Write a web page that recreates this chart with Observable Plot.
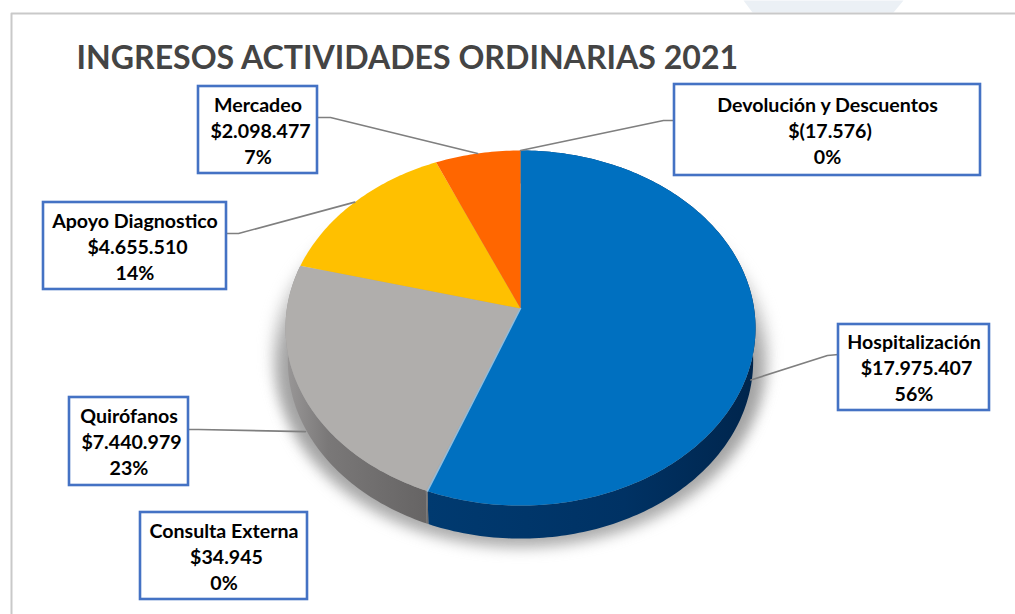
<!DOCTYPE html>
<html lang="es">
<head>
<meta charset="utf-8">
<script src="https://cdn.jsdelivr.net/npm/d3@7"></script>
<script src="https://cdn.jsdelivr.net/npm/@observablehq/plot@0.6"></script>
<style>
  html, body { margin: 0; padding: 0; background: #fff; overflow: hidden; }
  .pie-shadow { filter: blur(7px); }
  svg { display: block; }
</style>
</head>
<body>
<div id="chart"></div>
<script>
// ---- data ----
const chartTitle = "INGRESOS ACTIVIDADES ORDINARIAS 2021";
const categories = ["Hospitalización", "Consulta Externa", "Quirófanos", "Apoyo Diagnostico", "Mercadeo", "Devolución y Descuentos"];
const values = [17975407, 34945, 7440979, 4655510, 2098477, -17576];

// ---- styles and layout, kept apart from the data ----
const sliceColors = ["#0070c0", "#b0aeac", "#b0aeac", "#ffc000", "#ff6600", "#ff6600"];
const sideFills = ["url(#sideBlue)", "url(#sideGray)", "url(#sideGray)", "none", "none", "none"];
const boxes = [
  [838, 324, 989, 410],
  [140, 512, 307, 599],
  [69, 397, 188, 485],
  [43, 202, 226, 289],
  [198, 86, 317, 173],
  [674, 84, 980, 175]
];
// elbows of the leader lines, from box edge to elbow (null = no leader)
const elbows = [
  [[838, 354], [827, 355]],
  null,
  [[188, 429], [198, 429]],
  [[226, 233], [238, 233]],
  [[317, 117], [330, 117]],
  [[674, 120], [663, 120]]
];
const width = 1015, height = 614;

// Perspective view of the disc
const cx = 520, cy = 308, a = 233.6, b = 175.4, k = -0.11, depth = 33;
const project = (deg) => {
  const t = deg * Math.PI / 180, u = Math.sin(t), v = -Math.cos(t), w = 1 + k * v;
  return [cx + a * u / w, cy + b * v / w];
};
const arc = (a0, a1) => d3.range(0, 1.0001, 1 / Math.max(2, Math.ceil(a1 - a0))).map((f) => project(a0 + (a1 - a0) * f));
const drop = ([x, y]) => [cx + (x - cx) * 0.99, y + depth];

// Angles from the values (a negative amount has no wedge)
const shares = values.map((v) => Math.max(0, v));
const shareTotal = d3.sum(shares);
const total = d3.sum(values);
let running = 0;
const slices = categories.map((name, i) => {
  const a0 = running / shareTotal * 360;
  running += shares[i];
  const a1 = running / shareTotal * 360;
  return { name, a0, a1, mid: (a0 + a1) / 2, color: sliceColors[i], side: sideFills[i] };
});

// Texts
const es = d3.formatLocale({ decimal: ",", thousands: ".", grouping: [3], currency: ["$", ""] });
const money = (v) => v < 0 ? `$(${es.format(",")(-v)})` : `$${es.format(",")(v)}`;
const textRows = categories.flatMap((name, i) => {
  const [x1, y1, x2, y2] = boxes[i], x = (x1 + x2) / 2, y = (y1 + y2) / 2 + 1.5;
  return [
    { x, y: y - 26, text: name },
    { x: x + 2.5, y, text: money(values[i]) },
    { x, y: y + 26, text: `${Math.max(0, Math.round(values[i] / total * 100))}%` }
  ];
});

// Leader lines end on the rim of their wedge
const leaders = slices.flatMap((s, i) => {
  if (!elbows[i]) return [];
  let rim = project(s.mid);
  if (s.mid > 90 && s.mid < 270) rim = [rim[0] + (rim[0] < cx ? 4 : -4), rim[1] + depth + 6];
  return [[...elbows[i], rim]];
});

const xy = { x: (d) => d[0], y: (d) => d[1] };
const polygon = (pts, fill, extra = {}) => Plot.line(pts, { ...xy, fill, stroke: "none", ...extra });

const defs = () => {
  const svg = d3.create("svg:defs");
  const grad = (id, stops) => {
    const g = svg.append("linearGradient").attr("id", id).attr("x1", 0).attr("x2", 1).attr("y1", 0).attr("y2", 0);
    stops.forEach(([o, c]) => g.append("stop").attr("offset", o).attr("stop-color", c));
  };
  grad("sideGray", [[0, "#9a9898"], [0.3, "#7a7878"], [1, "#666464"]]);
  grad("sideBlue", [[0, "#003a70"], [0.6, "#003264"], [1, "#00254c"]]);
  return svg.node();
};

const ellipse = arc(0, 360);
const plot = Plot.plot({
  width, height, margin: 0,
  x: { domain: [0, width], range: [0, width], axis: null },
  y: { domain: [0, height], range: [0, height], axis: null },
  marks: [
    defs,
    // pale watermark above the frame
    polygon([[743, 0], [903, 0], [893, 12], [752, 12]], "#ebf0f5"),
    // frame
    Plot.line([[11, 613], [11, 13], [1015, 13]], { ...xy, stroke: "#c9c9c9", strokeWidth: 2 }),
    // shadow: a faint wide halo and a denser core
    polygon(ellipse.map(([x, y]) => [cx + (x - cx) * 1.06, y + depth - 8]), "#b5b5b5", { className: "pie-shadow", fillOpacity: 0.55 }),
    polygon(ellipse.map(([x, y]) => [cx + (x - cx) * 1.03, y + depth + 9]), "#8b8b8b", { className: "pie-shadow", fillOpacity: 0.7 }),
    // sides
    ...slices.filter((s) => s.side !== "none" && s.a1 > s.a0).map((s) => {
      const top = arc(s.a0, s.a1);
      return polygon([...top, ...top.slice().reverse().map(drop)], s.side);
    }),
    // top surface
    ...slices.filter((s) => s.a1 > s.a0).map((s) => polygon([[cx, cy], ...arc(s.a0, s.a1)], s.color)),
    // light seam between blue and gray
    Plot.line([[cx, cy], project(slices[0].a1)], { ...xy, stroke: "#8fbcdc", strokeWidth: 1.5 }),
    // leaders
    ...leaders.map((pts) => Plot.line(pts, { ...xy, stroke: "#7f7f7f", strokeWidth: 1.6 })),
    // callout boxes
    Plot.rect(boxes, {
      x1: (d) => d[0], y1: (d) => d[1], x2: (d) => d[2], y2: (d) => d[3],
      fill: "white", stroke: "#4472c4", strokeWidth: 2.6
    }),
    Plot.text(textRows, {
      x: "x", y: "y", text: "text", fill: "#000", fontWeight: 700,
      fontSize: 19.6, fontFamily: "Lato, 'Open Sans', sans-serif", textAnchor: "middle", lineAnchor: "middle"
    }),
    // title
    Plot.text([chartTitle], {
      x: [76], y: [58], text: (d) => d, fill: "#444444", fontWeight: 700,
      fontSize: 32.1, fontFamily: "Lato, 'Open Sans', sans-serif", textAnchor: "start", lineAnchor: "middle"
    })
  ]
});
document.getElementById("chart").append(plot);
</script>
</body>
</html>
